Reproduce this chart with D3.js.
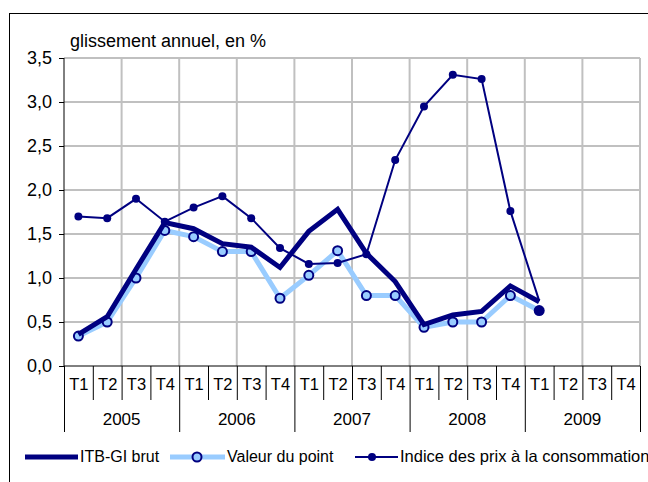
<!DOCTYPE html>
<html lang="fr">
<head>
<meta charset="UTF-8">
<title>Glissement annuel</title>
<script src="https://d3js.org/d3.v7.min.js"></script>
<style>
    body { margin: 0; background: #fff; }
    svg { display: block; font-family: "Liberation Sans", Arial, sans-serif; }
</style>
</head>
<body>
<div id="chart"></div>
<script>
    // donnees
    let years = ['2005', '2006', '2007', '2008', '2009'];
    let quarters = ['T1', 'T2', 'T3', 'T4'];
    let itb = [0.36, 0.56, 1.10, 1.63, 1.56, 1.39, 1.35, 1.12, 1.53, 1.78, 1.28, 0.96,
               0.47, 0.58, 0.62, 0.91, 0.73];
    let point = [0.34, 0.50, 1.00, 1.54, 1.47, 1.30, 1.30, 0.77, 1.03, 1.31, 0.80, 0.80,
                 0.44, 0.50, 0.50, 0.80, 0.63];
    let ipc = [1.70, 1.68, 1.90, 1.64, 1.80, 1.93, 1.68, 1.34, 1.16, 1.17, 1.27, 2.34,
               2.95, 3.31, 3.26, 1.76, 0.74];
    let yTicks = [0, 0.5, 1, 1.5, 2, 2.5, 3, 3.5];

    let navy = '#000080';
    let light = '#99ccff';
    let grid = '#c0c0c0';

    let svg = d3.select('#chart').append('svg')
        .attr('width', 648)
        .attr('height', 482);

    // cadre
    svg.append('rect')
        .attr('x', 9.5).attr('y', 13.5)
        .attr('width', 700).attr('height', 500)
        .attr('fill', 'none').attr('stroke', '#000');

    let nQ = years.length * quarters.length;
    let x = d3.scaleLinear().domain([0, nQ]).range([64, 640]);
    let y = d3.scaleLinear().domain([0, 3.5]).range([366, 58]);
    let fr = d3.formatLocale({decimal: ',', thousands: ' ', grouping: [3], currency: ['', '€']});

    // grille
    svg.append('g').selectAll('line')
        .data(yTicks.filter(d => d > 0))
        .join('line')
        .attr('x1', x(0)).attr('x2', x(nQ))
        .attr('y1', d => y(d)).attr('y2', d => y(d))
        .attr('stroke', grid).attr('stroke-width', 2);
    svg.append('g').selectAll('line')
        .data(d3.range(2, nQ + 1, 2))
        .join('line')
        .attr('x1', d => x(d)).attr('x2', d => x(d))
        .attr('y1', y(0)).attr('y2', y(3.5))
        .attr('stroke', grid).attr('stroke-width', 2);

    // axe y
    let yAxis = d3.axisLeft(y).tickValues(yTicks).tickFormat(fr.format('.1f')).tickSize(5).tickPadding(7);
    let gy = svg.append('g').attr('transform', 'translate(' + x(0) + ',0)').call(yAxis);
    gy.select('.domain').attr('d', 'M0,' + y(0) + 'V' + y(3.5));
    gy.selectAll('text').attr('font-size', 18).attr('font-family', '"Liberation Sans", Arial, sans-serif').attr('fill', '#000');

    // axe x
    let gx = svg.append('g');
    gx.append('line')
        .attr('x1', x(0)).attr('x2', x(nQ))
        .attr('y1', y(0)).attr('y2', y(0))
        .attr('stroke', '#000');
    gx.selectAll('line.sep')
        .data(d3.range(0, nQ + 1))
        .join('line')
        .attr('class', 'sep')
        .attr('x1', d => x(d) + 0.5).attr('x2', d => x(d) + 0.5)
        .attr('y1', y(0))
        .attr('y2', d => d % 4 === 0 ? 432 : 400)
        .attr('stroke', '#000');
    let qLabels = [];
    years.forEach(function(yr) { quarters.forEach(q => qLabels.push(q)); });
    gx.selectAll('text.q')
        .data(qLabels)
        .join('text')
        .attr('class', 'q')
        .attr('x', (d, i) => x(i + 0.5) + 0.5)
        .attr('y', 390)
        .attr('text-anchor', 'middle')
        .attr('font-size', 16.5)
        .text(d => d);
    gx.selectAll('text.yr')
        .data(years)
        .join('text')
        .attr('class', 'yr')
        .attr('x', (d, i) => x(i * 4 + 2))
        .attr('y', 425)
        .attr('text-anchor', 'middle')
        .attr('font-size', 17)
        .text(d => d);

    // titre
    svg.append('text')
        .attr('x', 70).attr('y', 47)
        .attr('font-size', 18)
        .text('glissement annuel, en %');

    let line = d3.line().x((d, i) => x(i + 0.5)).y(d => y(d));

    // Valeur du point
    svg.append('path').datum(point)
        .attr('d', line).attr('fill', 'none')
        .attr('stroke', light).attr('stroke-width', 5).attr('stroke-linejoin', 'round');
    svg.append('g').selectAll('circle')
        .data(point.slice(0, -1))
        .join('circle')
        .attr('cx', (d, i) => x(i + 0.5)).attr('cy', d => y(d))
        .attr('r', 4.5)
        .attr('fill', light).attr('stroke', navy).attr('stroke-width', 2);

    // ITB-GI brut
    svg.append('path').datum(itb)
        .attr('d', line).attr('fill', 'none')
        .attr('stroke', navy).attr('stroke-width', 5).attr('stroke-linejoin', 'miter');

    // IPC
    svg.append('path').datum(ipc)
        .attr('d', line).attr('fill', 'none')
        .attr('stroke', navy).attr('stroke-width', 2);
    svg.append('g').selectAll('circle')
        .data(ipc.slice(0, -1))
        .join('circle')
        .attr('cx', (d, i) => x(i + 0.5)).attr('cy', d => y(d))
        .attr('r', 4)
        .attr('fill', navy);

    // dernier point (provisoire)
    let last = point.length - 1;
    svg.append('circle')
        .attr('cx', x(last + 0.5)).attr('cy', y(point[last]))
        .attr('r', 5.5)
        .attr('fill', navy);

    // legende
    let lg = svg.append('g').attr('font-size', 16);
    lg.append('line').attr('x1', 25).attr('x2', 78).attr('y1', 457).attr('y2', 457)
        .attr('stroke', navy).attr('stroke-width', 5);
    lg.append('text').attr('x', 80).attr('y', 462).text('ITB-GI brut');
    lg.append('line').attr('x1', 170).attr('x2', 225).attr('y1', 457).attr('y2', 457)
        .attr('stroke', light).attr('stroke-width', 5);
    lg.append('circle').attr('cx', 197).attr('cy', 457).attr('r', 4.5)
        .attr('fill', light).attr('stroke', navy).attr('stroke-width', 2);
    lg.append('text').attr('x', 227).attr('y', 462).text('Valeur du point');
    lg.append('line').attr('x1', 355).attr('x2', 398).attr('y1', 457).attr('y2', 457)
        .attr('stroke', navy).attr('stroke-width', 2);
    lg.append('circle').attr('cx', 372).attr('cy', 457).attr('r', 4).attr('fill', navy);
    lg.append('text').attr('x', 400).attr('y', 462).attr('font-size', 16.5).text('Indice des prix à la consommation');
</script>
</body>
</html>
